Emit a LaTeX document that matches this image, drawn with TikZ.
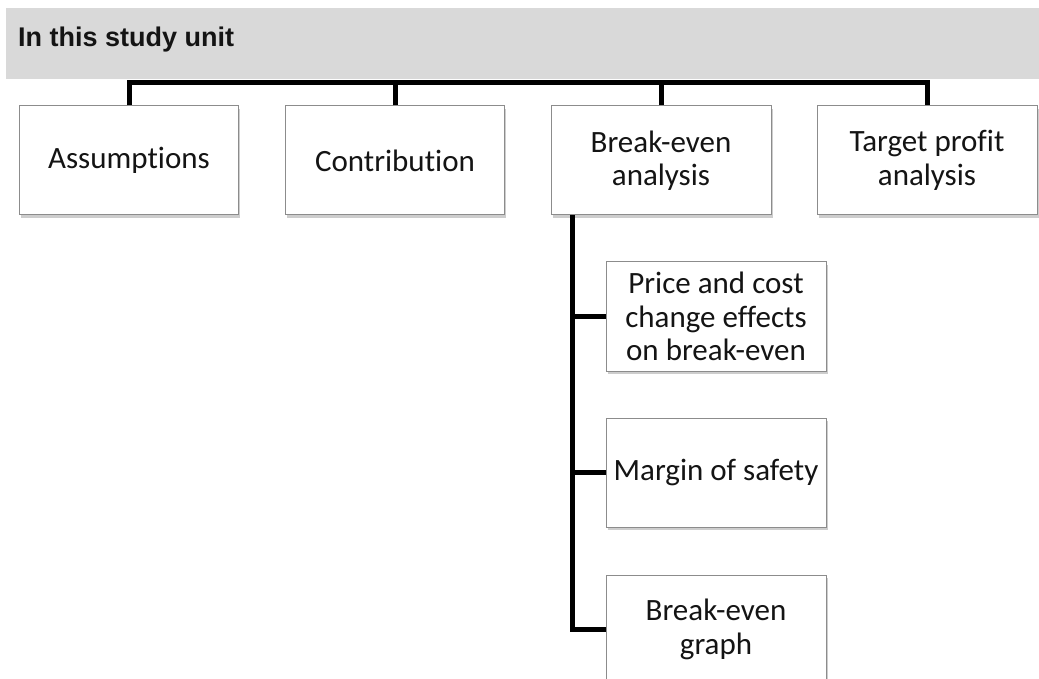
\documentclass[tikz,border=0pt]{standalone}
\usepackage{fontspec}
\newfontfamily\hdrfont{Liberation Sans}
\newfontfamily\boxfont[Ligatures={NoCommon}]{Carlito}
\usetikzlibrary{shadows}
\definecolor{hdrgray}{HTML}{D9D9D9}
\definecolor{boxline}{HTML}{8C8C8C}
\definecolor{txt}{HTML}{141414}
\tikzset{
  topic/.style={draw=boxline, line width=1pt, fill=white,
    minimum width=219pt, minimum height=109pt, inner sep=2pt,
    align=center, text=txt,
    font=\boxfont\fontsize{31}{33.5}\selectfont,
    drop shadow={shadow xshift=1.5pt, shadow yshift=-3pt, opacity=0.28, fill=black!70}},
  subtopic/.style={topic, minimum width=220pt},
  conn/.style={line width=5pt, black, line join=miter},
  headtext/.style={font=\hdrfont\bfseries\fontsize{27}{30}\selectfont, text=txt, inner sep=0pt, anchor=base west}
}
\begin{document}
\begin{tikzpicture}[x=1pt, y=-1pt]
\useasboundingbox (0,0) rectangle (1039,679);
\clip (0,0) rectangle (1039,679);
\fill[white] (0,0) rectangle (1039,679);
% header
\fill[hdrgray] (6,8) rectangle (1039,79);
\node[headtext] (head) at (18,47) {In this study unit};
% top-level boxes
\node[topic] (ass) at (129,160.5) {Assumptions};
\node[topic] (con) at (395,160.5) {Contribution};
\node[topic, minimum width=220pt] (bea) at (661,160.5) {Break-even\\analysis};
\node[topic, minimum width=220pt] (tpa) at (927,160.5) {Target profit\\analysis};
% sub boxes
\node[subtopic] (pce) at (716,316.5) {Price and cost\\change effects\\on break-even};
\node[subtopic] (mos) at (716,472.5) {Margin of safety};
\node[subtopic] (beg) at (716,629.5) {Break-even\\graph};
% connectors
\coordinate (bar) at (0,82.5);
\coordinate (trunk) at (572,0);
\draw[conn] (ass.north) -- (ass.north |- bar) -- (tpa.north |- bar) -- (tpa.north);
\draw[conn] (con.north) -- (con.north |- bar);
\draw[conn] (bea.north) -- (bea.north |- bar);
\draw[conn] (bea.south -| trunk) -- (trunk |- beg.west) -- (beg.west);
\draw[conn] (trunk |- pce.west) -- (pce.west);
\draw[conn] (trunk |- mos.west) -- (mos.west);
\end{tikzpicture}
\end{document}
